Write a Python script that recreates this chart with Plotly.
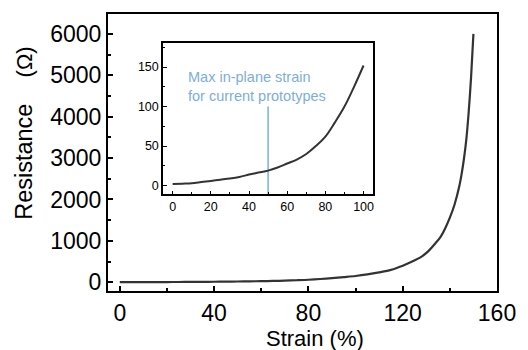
import plotly.graph_objects as go

strain = [0, 5, 10, 15, 20, 25, 30, 35, 40, 45, 50, 55, 60, 65, 70, 75, 80, 85, 90, 95, 100,
          105, 110, 115, 120, 124, 128, 131, 134, 136, 138, 140, 142, 144, 145, 146, 147, 148, 149, 150]
resistance = [2, 2.5, 3, 4.5, 6, 7.5, 9, 11, 14, 16.5, 19, 23, 28, 33, 40, 50, 62, 80, 100, 125, 152,
              190, 240, 300, 400, 500, 620, 760, 950, 1090, 1300, 1560, 1880, 2320, 2620, 2990, 3460,
              4120, 4950, 6000]

inset_strain = [s for s in strain if s <= 100]
inset_res = resistance[:len(inset_strain)]

main_xticks = [0, 40, 80, 120, 160]
main_yticks = [0, 1000, 2000, 3000, 4000, 5000, 6000]
inset_xticks = [0, 20, 40, 60, 80, 100]
inset_yticks = [0, 50, 100, 150]

marker_strain = 50
marker_top = 100
note = "Max in-plane strain<br>for current prototypes"

FONT = "Liberation Sans, Arial, sans-serif"
LINE = "#333333"
BLUE = "#7aaee0"

fig = go.Figure()
fig.add_trace(go.Scatter(x=strain, y=resistance, mode="lines",
                         line=dict(color=LINE, width=2.2, shape="spline", smoothing=0.8),
                         xaxis="x", yaxis="y", showlegend=False))
fig.add_trace(go.Scatter(x=[marker_strain, marker_strain], y=[-12, marker_top], mode="lines",
                         line=dict(color=BLUE, width=1.5),
                         xaxis="x2", yaxis="y2", showlegend=False))
fig.add_trace(go.Scatter(x=inset_strain, y=inset_res, mode="lines",
                         line=dict(color=LINE, width=2, shape="spline"),
                         xaxis="x2", yaxis="y2", showlegend=False))

ax_common = dict(showline=True, linecolor="black", mirror=True, ticks="inside",
                 showgrid=False, zeroline=False, tickcolor="black")

fig.update_layout(
    width=528, height=350,
    margin=dict(l=107.5, r=26.5, t=13, b=59),
    plot_bgcolor="white", paper_bgcolor="white",
    font=dict(family=FONT, color="black"),
    xaxis=dict(**ax_common, range=[-5, 160], tickvals=main_xticks, linewidth=2,
               ticklen=5, tickwidth=1.5,
               minor=dict(ticks="inside", dtick=20, tick0=0, ticklen=3, tickcolor="black"),
               tickfont=dict(size=23, family=FONT)),
    yaxis=dict(**ax_common, range=[-210, 6480], tickvals=main_yticks, linewidth=2,
               ticklen=5, tickwidth=1.5,
               minor=dict(ticks="inside", dtick=500, tick0=0, ticklen=3, tickcolor="black"),
               tickfont=dict(size=23, family=FONT)),
    xaxis2=dict(**ax_common, domain=[0.1416, 0.6815], anchor="y2", range=[-5, 105],
                tickvals=inset_xticks, linewidth=1.6, ticklen=4,
                minor=dict(ticks="inside", dtick=10, tick0=0, ticklen=2.5, tickcolor="black"),
                tickfont=dict(size=12.5, family=FONT)),
    yaxis2=dict(**ax_common, domain=[0.349, 0.894], anchor="x2", range=[-11, 180],
                tickvals=inset_yticks, linewidth=1.6, ticklen=4,
                minor=dict(ticks="inside", dtick=25, tick0=0, ticklen=2.5, tickcolor="black"),
                tickfont=dict(size=12.5, family=FONT)),
    annotations=[
        dict(x=7.0, y=150, xref="x2", yref="y2", text=note, showarrow=False,
             xanchor="left", yanchor="top", align="left",
             font=dict(size=14.5, color=BLUE, family=FONT)),
        dict(x=0.531, y=-0.172, xref="paper", yref="paper", showarrow=False,
             xanchor="center", yanchor="middle",
             text="Strain (%)",
             font=dict(size=22, family=FONT, color="black")),
        dict(x=-0.216, y=0.571, xref="paper", yref="paper", showarrow=False,
             xanchor="center", yanchor="middle", textangle=-90,
             text="Resistance&nbsp;&nbsp;&nbsp;&nbsp;<span style='font-size:22px'>(Ω)</span>",
             font=dict(size=23.5, family=FONT, color="black")),
    ],
    shapes=[dict(type="rect", xref="x2 domain", yref="y2 domain", x0=0, x1=1, y0=0, y1=1,
                 fillcolor="white", line=dict(width=0), layer="below")],
)

fig.write_html("out.html", config={"displayModeBar": False},
               post_script="document.body.style.margin='0';document.body.style.padding='0';")
